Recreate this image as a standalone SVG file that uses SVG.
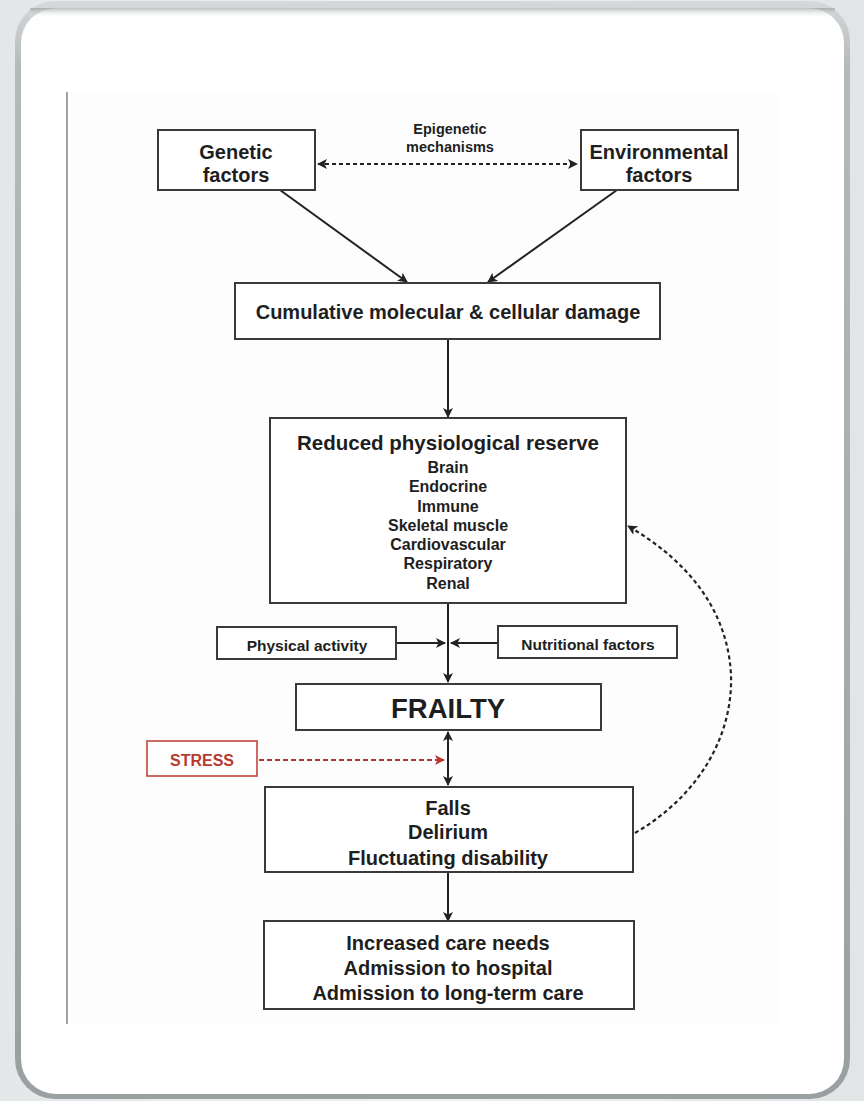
<svg xmlns="http://www.w3.org/2000/svg" width="864" height="1101" viewBox="0 0 864 1101">
<defs>
<linearGradient id="bg" x1="0" y1="0" x2="1" y2="0">
<stop offset="0" stop-color="#e4e7e7"/><stop offset="0.5" stop-color="#f1f2f2"/><stop offset="1" stop-color="#e2e5e5"/>
</linearGradient>
<linearGradient id="rim" x1="0" y1="0" x2="0" y2="1">
<stop offset="0" stop-color="#d6d9da"/><stop offset="0.06" stop-color="#b4b9bb"/><stop offset="1" stop-color="#9a9fa1"/>
</linearGradient>
<linearGradient id="shade" x1="0" y1="0" x2="0" y2="1">
<stop offset="0" stop-color="#8e9395" stop-opacity="0.6"/><stop offset="1" stop-color="#ffffff" stop-opacity="0"/>
</linearGradient>
<marker id="ah2" viewBox="0 0 10 10" refX="9" refY="5" markerWidth="10" markerHeight="10" orient="auto-start-reverse" markerUnits="userSpaceOnUse">
<path d="M0,0 L10,5 L0,10 L2.5,5 Z" fill="#222"/>
</marker>
<marker id="ahr" viewBox="0 0 10 10" refX="9" refY="5" markerWidth="10" markerHeight="10" orient="auto" markerUnits="userSpaceOnUse">
<path d="M0,0 L10,5 L0,10 L2.5,5 Z" fill="#b83a2e"/>
</marker>
<style>
.box{fill:#fff;stroke:#3a3a3a;stroke-width:2}
.t{font-family:"Liberation Sans",Arial,sans-serif;font-weight:bold;fill:#1e1e1e;text-anchor:middle}
.ln{stroke:#222;stroke-width:2;fill:none}
.dash{stroke:#222;stroke-width:2.2;fill:none;stroke-dasharray:4 3}
</style>
</defs>
<rect x="0" y="0" width="864" height="1101" fill="url(#bg)"/>
<rect x="15" y="1" width="835" height="1098" rx="40" fill="url(#rim)"/>
<rect x="21" y="8" width="823" height="1086" rx="35" fill="#ffffff"/>
<rect x="30" y="8" width="805" height="10" fill="url(#shade)"/>
<rect x="70" y="92" width="710" height="932" fill="#fdfdfd"/>
<line x1="67" y1="92" x2="67" y2="1024" stroke="#666" stroke-width="1.2"/>

<g id="connectors">
<line class="dash" x1="318" y1="164" x2="577" y2="164" marker-start="url(#ah2)" marker-end="url(#ah2)"/>
<line class="ln" x1="280" y1="190" x2="407" y2="282" marker-end="url(#ah2)"/>
<line class="ln" x1="617" y1="190" x2="488" y2="282" marker-end="url(#ah2)"/>
<line class="ln" x1="448" y1="339" x2="448" y2="417" marker-end="url(#ah2)"/>
<line class="ln" x1="448" y1="603" x2="448" y2="682" marker-end="url(#ah2)"/>
<line class="ln" x1="396" y1="643" x2="445" y2="643" marker-end="url(#ah2)"/>
<line class="ln" x1="498" y1="643" x2="451" y2="643" marker-end="url(#ah2)"/>
<line class="ln" x1="448" y1="732" x2="448" y2="785" marker-start="url(#ah2)" marker-end="url(#ah2)"/>
<line x1="259" y1="760" x2="444" y2="760" stroke="#b83a2e" stroke-width="2" stroke-dasharray="5 3" marker-end="url(#ahr)"/>
<line class="ln" x1="448" y1="872" x2="448" y2="921" marker-end="url(#ah2)"/>
<path class="dash" d="M635,833 C700,795 733,735 731,675 C728,612 690,562 628,526" marker-end="url(#ah2)"/>
</g>

<g id="genetic">
<rect class="box" x="158" y="130" width="157" height="60"/>
<text class="t" x="236" y="159" font-size="20">Genetic</text>
<text class="t" x="236" y="182" font-size="20">factors</text>
</g>
<g id="epigenetic">
<text class="t" x="450" y="134" font-size="14.5">Epigenetic</text>
<text class="t" x="450" y="152" font-size="14.5">mechanisms</text>
</g>
<g id="environmental">
<rect class="box" x="581" y="130" width="157" height="60"/>
<text class="t" x="659" y="159" font-size="20">Environmental</text>
<text class="t" x="659" y="182" font-size="20">factors</text>
</g>
<g id="cumulative">
<rect class="box" x="235" y="283" width="425" height="56"/>
<text class="t" x="448" y="319" font-size="20">Cumulative molecular &amp; cellular damage</text>
</g>
<g id="reserve">
<rect class="box" x="270" y="418" width="356" height="185"/>
<text class="t" x="448" y="450" font-size="20.5">Reduced physiological reserve</text>
<text class="t" x="448" y="473" font-size="16">Brain</text>
<text class="t" x="448" y="492" font-size="16">Endocrine</text>
<text class="t" x="448" y="512" font-size="16">Immune</text>
<text class="t" x="448" y="531" font-size="16">Skeletal muscle</text>
<text class="t" x="448" y="550" font-size="16">Cardiovascular</text>
<text class="t" x="448" y="569" font-size="16">Respiratory</text>
<text class="t" x="448" y="589" font-size="16">Renal</text>
</g>
<g id="physical">
<rect class="box" x="217" y="627" width="179" height="32"/>
<text class="t" x="307" y="650.5" font-size="15.5">Physical activity</text>
</g>
<g id="nutritional">
<rect class="box" x="498" y="626" width="179" height="32"/>
<text class="t" x="588" y="650" font-size="15.5">Nutritional factors</text>
</g>
<g id="frailty">
<rect class="box" x="296" y="684" width="305" height="46"/>
<text class="t" x="448" y="718" font-size="27.5">FRAILTY</text>
</g>
<g id="stress">
<rect x="147" y="741" width="110" height="35" fill="#fff" stroke="#c0453a" stroke-width="1.6"/>
<text x="202" y="766" font-size="16" font-family="Liberation Sans, Arial, sans-serif" font-weight="bold" fill="#b83a2e" text-anchor="middle">STRESS</text>
</g>
<g id="falls">
<rect class="box" x="265" y="787" width="368" height="85"/>
<text class="t" x="448" y="815" font-size="20">Falls</text>
<text class="t" x="448" y="839" font-size="20">Delirium</text>
<text class="t" x="448" y="865" font-size="20">Fluctuating disability</text>
</g>
<g id="outcomes">
<rect class="box" x="264" y="921" width="370" height="88"/>
<text class="t" x="448" y="950" font-size="20">Increased care needs</text>
<text class="t" x="448" y="975" font-size="20">Admission to hospital</text>
<text class="t" x="448" y="1000" font-size="20">Admission to long-term care</text>
</g>
</svg>
